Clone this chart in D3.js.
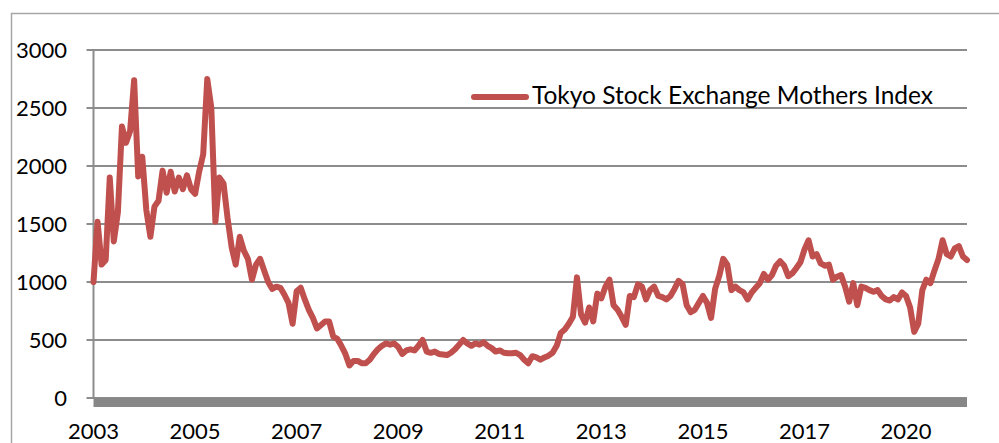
<!DOCTYPE html>
<html>
<head>
<meta charset="utf-8">
<script src="https://cdn.jsdelivr.net/npm/d3@7"></script>
<style>
    body { margin: 0; background: #fff; }
    svg { display: block; font-family: Lato, "Open Sans", sans-serif; }
    .grid { stroke: #8c8c8c; stroke-width: 2; }
    .lbl { font-size: 22px; fill: #000; }
</style>
</head>
<body>
<div class="container"></div>
<script>
// index values, one point every few trading days
var mothers = [
    1000, 1520, 1150, 1190, 1900, 1350, 1600, 2340, 2200, 2300,
    2740, 1910, 2080, 1620, 1390, 1650, 1700, 1960, 1770, 1950,
    1780, 1900, 1800, 1920, 1800, 1760, 1950, 2100, 2750, 2500,
    1520, 1900, 1850, 1550, 1300, 1150, 1390, 1270, 1200, 1020,
    1150, 1200, 1100, 1000, 940, 960, 950, 890, 820, 640,
    920, 950, 850, 760, 690, 600, 630, 660, 660, 530,
    510, 450, 380, 280, 320, 320, 300, 300, 330, 380,
    420, 450, 470, 460, 470, 440, 380, 410, 420, 410,
    450, 500, 400, 390, 400, 380, 375, 370, 390, 420,
    460, 500, 470, 450, 470, 460, 480, 450, 430, 400,
    410, 390, 385, 385, 390, 370, 330, 300, 360, 350,
    330, 350, 365, 390, 450, 560, 590, 640, 700, 1040,
    720, 650, 780, 660, 900, 860, 960, 1020, 800, 760,
    700, 630, 880, 870, 980, 960, 850, 930, 960, 880,
    870, 850, 880, 940, 1010, 980, 800, 740, 760, 820,
    880, 820, 690, 940, 1050, 1200, 1150, 930, 960, 930,
    910, 850, 910, 950, 990, 1070, 1020, 1060, 1140, 1180,
    1140, 1050, 1075, 1120, 1170, 1280, 1360, 1220, 1240, 1160,
    1140, 1150, 1020, 1045, 1060, 960, 830, 990, 800, 960,
    950, 930, 915, 930, 880, 850, 840, 870, 850, 910,
    880, 780, 570, 640, 930, 1020, 990, 1100, 1200, 1360,
    1240, 1220, 1290, 1310, 1220, 1190
];
var yearLabels = ["2003", "2005", "2007", "2009", "2011", "2013", "2015", "2017", "2020"];
var labelEvery = 25;
var yTicks = [0, 500, 1000, 1500, 2000, 2500, 3000];
var seriesName = "Tokyo Stock Exchange Mothers Index";

var width = 999, height = 443;
var plotLeft = 93.5, plotRight = 967, plotTop = 50, plotBottom = 398;

var svg = d3.select(".container").append("svg")
    .attr("width", width)
    .attr("height", height);

// outer chart border
svg.append("rect")
    .attr("x", 11.5)
    .attr("y", 13.5)
    .attr("width", 1100)
    .attr("height", 500)
    .attr("fill", "none")
    .attr("stroke", "#a6a6a6")
    .attr("stroke-width", 1.5);

var x = d3.scaleLinear().domain([0, mothers.length - 1]).range([plotLeft, plotRight]);
var y = d3.scaleLinear().domain([0, 3000]).range([plotBottom, plotTop]);

// horizontal grid with little ticks to the left
svg.selectAll(".grid")
    .data(yTicks)
    .enter()
    .append("line")
    .classed("grid", true)
    .attr("x1", plotLeft - 7)
    .attr("x2", plotRight)
    .attr("y1", (d) => y(d))
    .attr("y2", (d) => y(d));

svg.append("line")
    .classed("grid", true)
    .attr("x1", plotLeft)
    .attr("x2", plotLeft)
    .attr("y1", plotTop)
    .attr("y2", plotBottom);

svg.selectAll(".ylbl")
    .data(yTicks)
    .enter()
    .append("text")
    .classed("lbl", true)
    .attr("x", 67)
    .attr("y", (d) => y(d))
    .attr("dy", "0.36em")
    .attr("text-anchor", "end")
    .text((d) => d);

// thick base axis
svg.append("rect")
    .attr("x", plotLeft)
    .attr("y", plotBottom)
    .attr("width", plotRight - plotLeft)
    .attr("height", 9)
    .attr("fill", "#878787");

svg.selectAll(".xlbl")
    .data(yearLabels)
    .enter()
    .append("text")
    .classed("lbl", true)
    .attr("x", (d, i) => x(i * labelEvery))
    .attr("y", 431)
    .attr("dy", "0.36em")
    .attr("text-anchor", "middle")
    .text((d) => d);

var line = d3.line()
    .x((d, i) => x(i))
    .y((d) => y(d));

svg.append("path")
    .datum(mothers)
    .attr("d", line)
    .attr("fill", "none")
    .attr("stroke", "#c0504d")
    .attr("stroke-width", 6)
    .attr("stroke-linejoin", "round")
    .attr("stroke-linecap", "round");

// legend
svg.append("line")
    .attr("x1", 474)
    .attr("x2", 526)
    .attr("y1", 97)
    .attr("y2", 97)
    .attr("stroke", "#c0504d")
    .attr("stroke-width", 6)
    .attr("stroke-linecap", "round");

svg.append("text")
    .attr("x", 532)
    .attr("y", 104)
    .attr("font-size", "24.5px")
    .attr("fill", "#000")
    .text(seriesName);
</script>
</body>
</html>
